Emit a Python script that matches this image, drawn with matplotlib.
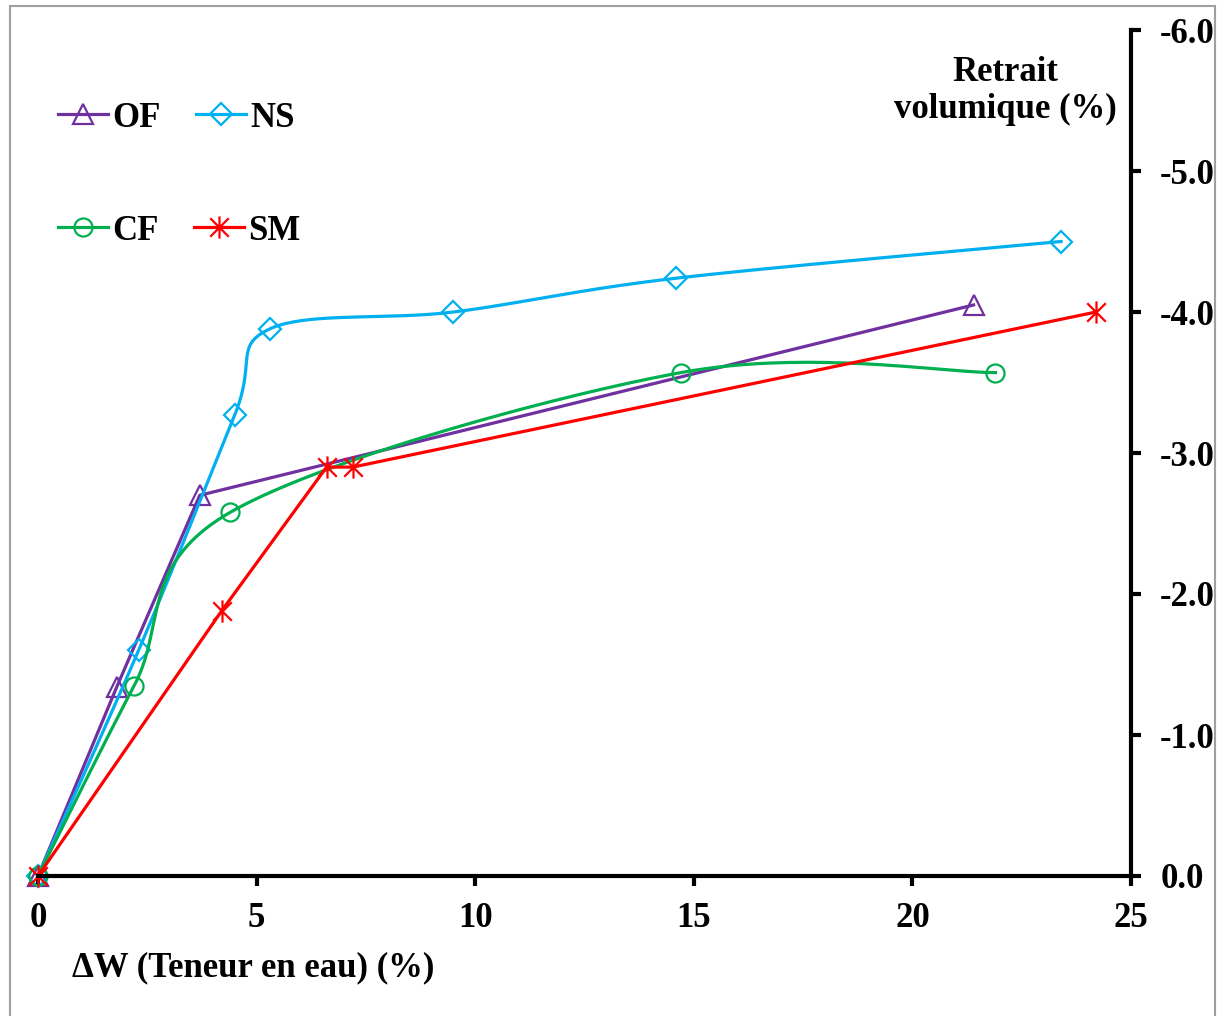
import numpy as np
import matplotlib
matplotlib.use("Agg")
import matplotlib.pyplot as plt
from matplotlib.lines import Line2D
from matplotlib.path import Path
from matplotlib.patches import Rectangle

plt.rcParams['font.family'] = ['Liberation Serif', 'DejaVu Serif']
plt.rcParams['font.weight'] = 'bold'
plt.rcParams['axes.unicode_minus'] = False

# data
of_x = [0, 1.8, 3.7, 21.4]
of_y = [0, -1.34, -2.70, -4.05]

ns_x = [0, 2.3, 4.5, 5.3, 9.5, 14.6, 23.4]
ns_y = [0, -1.60, -3.27, -3.88, -4.00, -4.24, -4.50]

cf_x = [0, 2.2, 4.4, 14.7, 21.9]
cf_y = [0, -1.35, -2.58, -3.57, -3.57]

sm_x = [0, 4.2, 6.6, 7.2, 24.2]
sm_y = [0, -1.88, -2.90, -2.90, -4.00]

xticks = [0, 5, 10, 15, 20, 25]
yticks = [0.0, -1.0, -2.0, -3.0, -4.0, -5.0, -6.0]

# asterisk marker like the spreadsheet "star"
star = Path([(-1, -1), (1, 1), (-1, 1), (1, -1), (0, -1.2), (0, 1.2)],
            [Path.MOVETO, Path.LINETO, Path.MOVETO, Path.LINETO, Path.MOVETO, Path.LINETO])


def smooth(x, y, sx=43.72, sy=141.0, n=40):
    # catmull-rom style bezier, done in pixel space
    p = np.column_stack([np.asarray(x) * sx, np.asarray(y) * sy])
    pts = []
    for i in range(len(p) - 1):
        p0 = p[max(i - 1, 0)]
        p1 = p[i]
        p2 = p[i + 1]
        p3 = p[min(i + 2, len(p) - 1)]
        b1 = p1 + (p2 - p0) / 6
        b2 = p2 - (p3 - p1) / 6
        t = np.linspace(0, 1, n)[:, None]
        seg = (1 - t) ** 3 * p1 + 3 * (1 - t) ** 2 * t * b1 + 3 * (1 - t) * t ** 2 * b2 + t ** 3 * p2
        pts.append(seg)
    pts = np.vstack(pts)
    return pts[:, 0] / sx, pts[:, 1] / sy


c_of, c_ns, c_cf, c_sm = '#7030A0', '#00B0F0', '#00B050', '#FF0000'
lw = 2.3
fs = 25
ms_tri, ms_dia, ms_cir, ms_star = 14, 11, 13, 16
mk = dict(markerfacecolor='none', markeredgewidth=1.6, linestyle='none')

fig = plt.figure(figsize=(12.19, 10.16), dpi=100)
ax = fig.add_axes([38 / 1219, 140 / 1016, 1093 / 1219, 846 / 1016])

ax.plot(of_x, of_y, color=c_of, lw=lw)
ax.plot(of_x, of_y, marker='^', markersize=ms_tri, markeredgecolor=c_of, **mk)

sx, sy = smooth(ns_x, ns_y)
ax.plot(sx, sy, color=c_ns, lw=lw)
ax.plot(ns_x, ns_y, marker='D', markersize=ms_dia, markeredgecolor=c_ns, **mk)

sx, sy = smooth(cf_x, cf_y)
ax.plot(sx, sy, color=c_cf, lw=lw)
ax.plot(cf_x, cf_y, marker='o', markersize=ms_cir, markeredgecolor=c_cf, **mk)

ax.plot(sm_x, sm_y, color=c_sm, lw=lw)
ax.plot(sm_x, sm_y, marker=star, markersize=ms_star, markeredgecolor=c_sm, **mk)

ax.set_xlim(0, 25)
ax.set_ylim(0, -6)
ax.set_xticks(xticks)
ax.set_yticks(yticks)
ax.set_xticklabels([str(v) for v in xticks])
ax.set_yticklabels(['%.1f' % v for v in yticks])
ax.yaxis.tick_right()
for s in ['left', 'top']:
    ax.spines[s].set_visible(False)
ax.spines['bottom'].set_linewidth(3)
ax.spines['right'].set_linewidth(3)
ax.tick_params(axis='x', direction='out', length=7, width=3, pad=12, labelsize=fs)
ax.tick_params(axis='y', direction='out', length=7, width=3, pad=14, labelsize=fs)
for lab in ax.get_xticklabels() + ax.get_yticklabels():
    lab.set_fontweight('bold')
for ln in ax.lines:
    ln.set_clip_on(False)

fig.text(72 / 1219, 1 - 968 / 1016, 'ΔW (Teneur en eau) (%)', fontsize=fs,
         fontweight='bold', ha='left', va='center')
fig.text(1005 / 1219, 1 - 91 / 1016, 'Retrait\nvolumique (%)', fontsize=fs,
         fontweight='bold', ha='center', va='center', linespacing=1.18)


def handle(c, m, ms):
    return Line2D([], [], color=c, lw=lw, marker=m, markersize=ms,
                  markerfacecolor='none', markeredgecolor=c, markeredgewidth=1.6)


leg_kw = dict(ncol=2, frameon=False, handlelength=1.45, borderpad=0,
              handletextpad=0.12, columnspacing=1.0, borderaxespad=0,
              prop={'weight': 'bold', 'size': fs})
leg1 = ax.legend([handle(c_of, '^', ms_tri), handle(c_ns, 'D', ms_dia)], ['OF', 'NS'],
                 loc='center left', bbox_to_anchor=(20 / 1093, (876 - 118) / 846), **leg_kw)
ax.add_artist(leg1)
ax.legend([handle(c_cf, 'o', ms_cir), handle(c_sm, star, ms_star)], ['CF', 'SM'],
          loc='center left', bbox_to_anchor=(20 / 1093, (876 - 231) / 846), **leg_kw)

fig.add_artist(Rectangle((10 / 1219, -0.01), 1205 / 1219, 1.01 - 6 / 1016,
                         transform=fig.transFigure, fill=False, edgecolor='#A0A0A0', lw=1.5))

fig.savefig('out.png', dpi=100)
